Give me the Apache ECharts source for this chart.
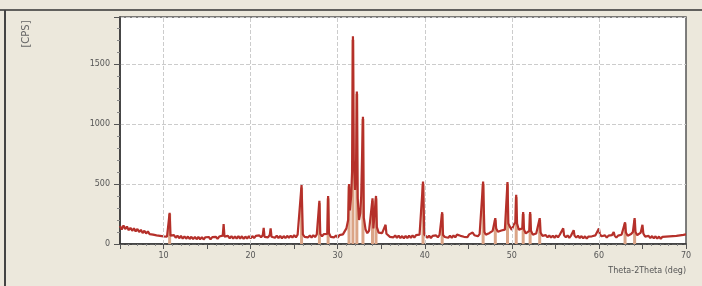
<!DOCTYPE html>
<html lang="en">
<head>
<meta charset="UTF-8">
<style>
html, body { margin: 0; height: 100%; background: #ece8dc; }
#chart { width: 702px; height: 286px; }
</style>
</head>
<body>
<div id="chart"></div>
<script src="https://cdn.jsdelivr.net/npm/echarts@6/dist/echarts.min.js"></script>
<script>
// measured pattern: [2theta, counts]
var pattern = [
  [5.0,150],[5.2,120],[5.4,155],[5.6,125],[5.8,145],[6.0,115],[6.2,135],[6.4,110],[6.6,130],[6.8,105],[7.0,125],[7.2,100],
  [7.4,118],[7.6,92],[7.8,110],[8.0,88],[8.2,105],[8.4,82],[8.6,98],[8.8,78],[9.0,92],[9.2,72],[9.4,88],[9.6,68],[9.8,82],
  [10.0,64],[10.2,78],[10.4,62],[10.6,75],[10.7,260],[10.8,70],[11.0,58],[11.2,74],[11.4,52],[11.6,70],[11.8,48],[12.0,67],
  [12.2,45],[12.4,64],[12.6,44],[12.8,62],[13.0,42],[13.2,60],[13.4,41],[13.6,59],[13.8,40],[14.0,58],[14.2,40],[14.4,57],
  [14.6,38],[14.8,56],[15.0,40],[15.2,58],[15.4,39],[15.6,57],[15.8,42],[16.0,60],[16.2,43],[16.4,62],[16.6,46],[16.8,70],
  [16.9,165],[17.0,62],[17.2,50],[17.4,68],[17.6,47],[17.8,66],[18.0,45],[18.2,64],[18.4,44],[18.6,65],[18.8,46],[19.0,64],
  [19.2,43],[19.4,62],[19.6,45],[19.8,65],[20.0,47],[20.2,66],[20.4,49],[20.6,68],[20.8,52],[21.0,72],[21.2,55],[21.4,75],
  [21.5,135],[21.6,60],[21.8,74],[22.0,55],[22.2,76],[22.3,130],[22.4,60],[22.6,72],[22.8,52],[23.0,70],[23.2,49],[23.4,68],
  [23.6,47],[23.8,66],[24.0,49],[24.2,68],[24.4,51],[24.6,70],[24.8,53],[25.0,74],[25.2,55],[25.4,78],[25.6,70],[25.85,490],
  [26.0,80],[26.2,60],[26.4,76],[26.6,55],[26.8,72],[27.0,53],[27.2,74],[27.4,57],[27.6,80],[27.8,70],[27.9,360],[28.0,85],
  [28.2,64],[28.4,82],[28.6,68],[28.8,85],[28.9,400],[29.0,90],[29.2,60],[29.4,76],[29.6,55],[29.8,72],[30.0,53],[30.2,74],
  [30.4,58],[30.6,80],[30.8,90],[31.0,130],[31.2,200],[31.3,500],[31.4,280],[31.55,400],[31.65,600],[31.75,1730],[31.85,700],
  [32.0,450],[32.1,600],[32.2,1270],[32.3,380],[32.45,200],[32.6,260],[32.7,400],[32.9,1060],[33.0,220],[33.2,120],[33.4,90],
  [33.6,110],[33.8,100],[34.0,380],[34.1,130],[34.2,120],[34.4,400],[34.5,140],[34.7,95],[34.9,80],[35.1,90],[35.3,75],
  [35.5,160],[35.6,85],[35.8,70],[36.0,60],[36.2,76],[36.4,55],[36.6,72],[36.8,52],[37.0,70],[37.2,49],[37.4,66],[37.6,47],
  [37.8,68],[38.0,49],[38.2,70],[38.4,52],[38.6,72],[38.8,53],[39.0,74],[39.2,58],[39.4,78],[39.6,70],[39.8,520],[39.95,80],
  [40.1,65],[40.3,52],[40.5,70],[40.7,49],[40.9,68],[41.1,52],[41.3,72],[41.5,55],[41.7,76],[41.9,70],[42.0,265],[42.1,75],
  [42.3,58],[42.5,74],[42.7,52],[42.9,70],[43.1,51],[43.3,72],[43.5,55],[43.7,78],[43.9,90],[44.1,68],[44.3,84],[44.5,60],
  [44.7,76],[44.9,57],[45.1,80],[45.3,68],[45.5,95],[45.7,73],[45.9,84],[46.1,65],[46.3,82],[46.5,85],[46.7,520],[46.85,100],
  [47.0,78],[47.2,70],[47.4,90],[47.6,78],[47.8,110],[48.0,120],[48.1,215],[48.2,130],[48.4,102],[48.6,92],[48.8,112],
  [49.0,98],[49.2,120],[49.4,130],[49.5,515],[49.6,170],[49.8,140],[50.0,118],[50.2,160],[50.4,180],[50.5,410],[50.6,170],
  [50.8,118],[51.0,108],[51.2,130],[51.3,265],[51.4,120],[51.6,88],[51.8,102],[52.0,110],[52.1,265],[52.2,110],[52.4,78],
  [52.6,70],[52.8,88],[53.0,95],[53.2,215],[53.3,95],[53.5,68],[53.7,57],[53.9,74],[54.1,55],[54.3,72],[54.5,53],[54.7,70],
  [54.9,52],[55.1,72],[55.3,55],[55.5,77],[55.7,70],[55.9,130],[56.0,72],[56.2,55],[56.4,72],[56.6,52],[56.8,70],[57.0,75],
  [57.1,115],[57.2,70],[57.4,53],[57.6,70],[57.8,49],[58.0,66],[58.2,47],[58.4,64],[58.6,45],[58.8,62],[59.0,47],[59.2,64],
  [59.4,52],[59.6,72],[59.8,80],[60.0,130],[60.1,85],[60.3,64],[60.5,55],[60.7,72],[60.9,53],[61.1,70],[61.3,55],[61.5,74],
  [61.7,100],[61.8,70],[62.0,53],[62.2,70],[62.4,55],[62.6,77],[62.8,90],[63.0,180],[63.1,95],[63.3,68],[63.5,80],[63.7,83],
  [63.9,100],[64.1,215],[64.2,100],[64.4,73],[64.6,84],[64.8,95],[65.0,160],[65.1,88],[65.3,62],[65.5,53],[65.7,68],[65.9,49],
  [66.1,66],[66.3,47],[66.5,64],[66.7,45],[66.9,62],[67.1,43],[67.3,60],[67.5,45],[67.7,62],[67.9,47],[68.1,64],[68.3,49],
  [68.5,66],[68.7,51],[68.9,68],[69.1,53],[69.3,72],[69.5,58],[69.7,76],[69.9,66],[70.0,80]
];
// reference stick lines
var stickPos = [10.7, 25.85, 27.9, 28.9, 31.3, 31.75, 32.2, 32.9, 34.0, 34.4, 39.8, 42.0, 46.7, 48.1, 49.5, 50.5, 51.3, 52.1, 53.2, 63.0, 64.1];
var stickVal = [250, 470, 340, 380, 480, 1700, 1250, 1040, 360, 380, 500, 250, 500, 200, 500, 390, 250, 250, 200, 170, 200];
var xGrid = [10, 20, 30, 40, 50, 60];

var chart = echarts.init(document.getElementById('chart'));
chart.setOption({
  backgroundColor: '#ece8dc',
  animation: false,
  grid: { left: 120, right: 16, top: 17, bottom: 42, show: true, backgroundColor: '#fff', borderColor: '#555', borderWidth: 1.5 },
  xAxis: {
    type: 'value', min: 5, max: 70, interval: 5,
    axisLine: { onZero: false, lineStyle: { color: '#333', width: 1.5 } },
    axisTick: { length: 5, lineStyle: { color: '#555' } },
    minorTick: { show: true, splitNumber: 5, length: 2, lineStyle: { color: '#888' } },
    axisLabel: { color: '#555', fontSize: 8, margin: 8, fontFamily: 'DejaVu Sans',
      formatter: function (v) { return v % 10 === 0 ? String(v) : ''; } },
    splitLine: { show: false }
  },
  yAxis: {
    type: 'value', min: 0, max: 1890, interval: 500,
    axisLine: { show: true, lineStyle: { color: '#333', width: 1.5 } },
    axisTick: { show: true, length: 6, lineStyle: { color: '#555' } },
    minorTick: { show: true, splitNumber: 5, length: 3, lineStyle: { color: '#888' } },
    axisLabel: { color: '#555', fontSize: 8, margin: 10, showMaxLabel: false, fontFamily: 'DejaVu Sans',
      formatter: function (v) { return String(v); } },
    splitLine: { lineStyle: { color: '#ccc', type: 'dashed' } }
  },
  graphic: [
    { type: 'line', shape: { x1: 0, y1: 10, x2: 702, y2: 10 }, style: { stroke: '#333', lineWidth: 1.5 } },
    { type: 'line', shape: { x1: 5, y1: 10, x2: 5, y2: 286 }, style: { stroke: '#444', lineWidth: 2 } },
    { type: 'text', x: 26, y: 34, rotation: Math.PI / 2, style: { text: '[CPS]', fill: '#666', font: '10px DejaVu Sans', align: 'center', verticalAlign: 'middle' } },
    { type: 'text', x: 686, y: 271, style: { text: 'Theta-2Theta (deg)', fill: '#555', font: '8px DejaVu Sans', align: 'right', verticalAlign: 'middle' } }
  ],
  series: [
    {
      type: 'bar', barWidth: 3, silent: true,
      itemStyle: { color: '#dba486' },
      data: stickPos.map(function (p, i) { return [p, stickVal[i]]; }),
      markLine: {
        silent: true, symbol: 'none', label: { show: false },
        lineStyle: { color: '#ccc', type: 'dashed', width: 1 },
        data: xGrid.map(function (v) { return { xAxis: v }; })
      }
    },
    {
      type: 'line', symbol: 'none', silent: true,
      lineStyle: { color: '#b5302a', width: 2.2 },
      data: pattern
    }
  ]
});
</script>
</body>
</html>
